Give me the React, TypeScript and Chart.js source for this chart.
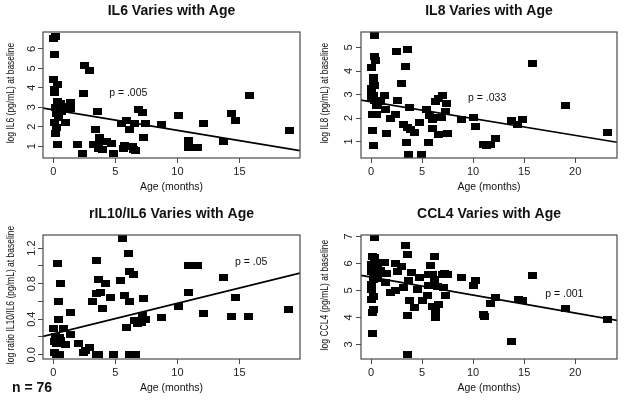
import React, { useEffect, useRef } from 'react';
import { Chart, registerables } from 'chart.js';

Chart.register(...registerables);

const FONT = '"Liberation Sans", Arial, Helvetica, sans-serif';

type Pt = [number, number];

// ---------- data (age in months, log value) ----------
const il6Points: Pt[] = [
  [0, 6.55], [0.2, 6.65], [0.13, 5.72], [0, 4.42], [0.13, 3.93], [0.32, 4.16], [0.1, 3.76],
  [0.32, 3.29], [0.59, 3.19], [0.14, 2.98], [0.48, 2.98], [0.85, 3.05], [0.22, 2.67], [0.67, 2.77],
  [0.06, 2.22], [0.4, 2.46], [1.02, 2.22], [0.27, 1.94], [0.14, 1.63], [0.3, 1.1], [1.39, 3.22],
  [1.39, 2.96], [2.4, 3.73], [2.53, 5.17], [2.88, 4.87], [3.55, 2.79], [1.95, 1.09], [2.37, 0.62],
  [3.2, 1.1], [3.41, 1.87], [3.6, 1.09], [3.73, 1.43], [3.68, 0.9], [4.0, 0.83], [4.27, 1.23],
  [4.67, 1.14], [4.88, 0.62], [5.47, 2.18], [5.92, 2.32], [6.13, 1.87], [6.53, 2.18], [5.73, 1.05],
  [5.65, 0.88], [6.35, 0.96], [6.48, 0.84], [6.61, 0.79], [6.88, 2.9], [7.15, 2.74], [7.47, 2.15],
  [7.25, 1.45], [8.75, 2.1], [10.05, 2.6], [10.88, 1.31], [10.88, 0.91], [11.63, 0.91], [12.13, 2.16],
  [13.73, 1.22], [14.32, 2.67], [14.69, 2.32], [15.79, 3.6], [19.0, 1.83],
];

const il8Points: Pt[] = [
  [0.39, 5.49], [0.39, 4.63], [0.46, 4.45], [0.07, 4.13], [0.2, 3.73], [0.29, 3.52], [0, 3.26],
  [0.39, 3.38], [0.07, 3.05], [0, 2.83], [0.3, 2.76], [0.78, 2.76], [0.62, 2.62], [1.37, 2.95],
  [0.5, 2.55], [0.95, 2.72], [0.2, 2.95], [0.13, 2.15], [0.52, 2.15], [0.13, 1.48], [0.29, 0.85],
  [1.43, 2.38], [1.92, 1.98], [2.41, 2.17], [1.5, 1.33], [2.48, 4.85], [3.6, 4.92], [3.38, 4.2],
  [2.96, 3.48], [2.57, 2.75], [3.77, 2.43], [3.16, 1.71], [3.55, 1.6], [3.87, 1.5], [4.3, 1.39],
  [4.7, 1.79], [3.48, 0.94], [3.65, 0.45], [4.95, 0.45], [5.4, 2.36], [5.73, 2.1], [6.05, 1.95],
  [6.47, 2.04], [6.9, 2.04], [7.29, 2.28], [6.31, 2.72], [6.64, 2.84], [7.03, 2.98], [7.35, 2.62],
  [6.05, 1.57], [6.57, 1.28], [7.45, 1.33], [5.6, 0.94], [8.85, 1.95], [10.05, 2.01], [10.28, 1.62],
  [11.0, 0.88], [11.35, 0.85], [11.7, 0.88], [12.23, 1.12], [13.8, 1.9], [14.34, 1.71], [14.83, 1.93],
  [15.8, 4.34], [19.06, 2.55], [23.12, 1.37],
];

const ratioPoints: Pt[] = [
  [0.32, 1.03], [0.54, 0.8], [0.4, 0.6], [0.4, 0.4], [1.39, 0.48], [0, 0.29], [0.86, 0.29],
  [1.39, 0.23], [0.14, 0.2], [0.48, 0.19], [0.06, 0.15], [0.27, 0.13], [0.59, 0.16], [1.02, 0.11],
  [0.06, 0.03], [0.27, 0.0], [0.48, 0.0], [2.0, 0.13], [2.4, 0.02], [2.62, 0.05], [2.88, 0.08],
  [3.47, 0.0], [3.65, 0.0], [4.85, 0.0], [6.13, 0.0], [6.59, 0.0], [3.47, 1.06], [3.68, 0.85],
  [4.2, 0.8], [3.52, 0.69], [3.82, 0.7], [3.12, 0.6], [3.95, 0.52], [4.62, 0.65], [5.39, 0.84],
  [5.6, 1.31], [6.08, 1.14], [6.13, 0.94], [6.45, 0.9], [5.71, 0.67], [6.13, 0.6], [5.92, 0.31],
  [7.26, 0.63], [6.53, 0.38], [6.93, 0.39], [7.2, 0.44], [7.07, 0.36], [7.42, 0.4], [6.75, 0.35],
  [8.75, 0.42], [10.06, 0.54], [10.86, 1.01], [11.6, 1.01], [10.9, 0.7], [12.14, 0.46], [13.74, 0.87],
  [14.67, 0.65], [14.32, 0.43], [15.76, 0.43], [18.96, 0.51],
];

const ccl4Points: Pt[] = [
  [0.39, 6.94], [0.13, 6.26], [0.39, 6.2], [0, 5.95], [0.62, 5.87], [1.37, 6.05], [0.07, 5.71],
  [0.39, 5.64], [0.78, 5.64], [1.5, 5.62], [0.29, 5.4], [1.43, 5.3], [0, 5.2], [0.07, 5.05],
  [0.5, 6.05], [0.2, 5.55], [0.6, 5.45], [0.9, 5.75], [0, 4.66], [0.2, 4.78], [0.29, 4.31],
  [0.13, 4.19], [0.13, 3.42], [1.92, 4.94], [2.41, 5.0], [2.41, 5.99], [2.99, 5.88], [2.57, 5.71],
  [3.38, 6.66], [3.61, 6.32], [3.96, 5.66], [3.7, 5.37], [3.23, 5.09], [4.75, 5.48], [4.52, 5.03],
  [3.77, 4.63], [4.3, 4.35], [3.61, 4.07], [5.0, 4.63], [5.5, 4.8], [5.82, 5.91], [6.25, 6.24],
  [6.05, 5.58], [5.66, 5.58], [5.66, 5.18], [6.25, 5.4], [6.48, 5.15], [7.12, 5.09], [7.29, 4.81],
  [6.05, 4.41], [6.57, 4.47], [6.31, 4.22], [6.31, 3.98], [7.03, 5.58], [7.45, 5.58], [7.22, 5.64],
  [8.85, 5.46], [10.05, 5.18], [10.28, 5.38], [11.03, 4.12], [11.1, 4.05], [11.68, 4.53], [12.23, 4.72],
  [13.8, 3.11], [14.44, 4.68], [14.87, 4.62], [15.8, 5.55], [19.06, 4.33], [23.12, 3.92], [3.55, 2.62],
];

// regression fits (intercept, slope) and p-values
const il6Fit = { intercept: 2.87, slope: -0.1057 };
const il8Fit = { intercept: 2.69, slope: -0.0714 };
const ratioFit = { intercept: 0.234, slope: 0.0345 };
const ccl4Fit = { intercept: 5.49, slope: -0.0666 };

const pLabels = ['p = .005', 'p = .033', 'p = .05', 'p = .001'];
const titles = ['IL6 Varies with Age', 'IL8 Varies with Age', 'rIL10/IL6 Varies with Age', 'CCL4 Varies with Age'];
const yTitles = [
  'log IL6 (pg/mL) at baseline',
  'log IL8 (pg/mL) at baseline',
  'log ratio IL10/IL6 (pg/mL) at baseline',
  'log CCL4 (pg/mL) at baseline',
];
const xTitle = 'Age (months)';
const sampleLabel = 'n = 76';

// ticks
const ageTicksShort = [0, 5, 10, 15];
const ageTicksLong = [0, 5, 10, 15, 20];
const il6Ticks = [1, 2, 3, 4, 5, 6];
const il8Ticks = [1, 2, 3, 4, 5];
const ratioTicks = [0, 0.2, 0.4, 0.6, 0.8, 1.0, 1.2];
const ratioTickLabels = ['0.0', '', '0.4', '', '0.8', '', '1.2'];
const ccl4Ticks = [3, 4, 5, 6, 7];

// ---------- drawing ----------
const decorPlugin = {
  id: 'decor',
  afterDatasetsDraw(chart: any, _args: any, o: any) {
    const { ctx, chartArea: a } = chart;
    const xs = chart.scales.x;
    const ys = chart.scales.y;
    ctx.save();
    ctx.strokeStyle = '#4a4a4a';
    ctx.lineWidth = 1.2;
    ctx.strokeRect(a.left, a.top, a.right - a.left, a.bottom - a.top);

    ctx.fillStyle = '#111';
    ctx.textAlign = 'center';
    ctx.textBaseline = 'middle';
    ctx.font = `bold 14px ${FONT}`;
    ctx.fillText(o.title, (a.left + a.right) / 2, a.top - 20.5);

    ctx.font = `10.5px ${FONT}`;
    ctx.fillText(o.xTitle, (a.left + a.right) / 2, a.bottom + 29.5);

    ctx.save();
    ctx.translate(a.left - o.yTitleGap, (a.top + a.bottom) / 2 - 2);
    ctx.rotate(-Math.PI / 2);
    ctx.scale(0.85, 1);
    ctx.font = `10px ${FONT}`;
    ctx.fillText(o.yTitle, 0, 0);
    ctx.restore();

    ctx.textAlign = 'left';
    ctx.font = `10.5px ${FONT}`;
    ctx.fillText(o.pLabel, xs.getPixelForValue(o.pAt[0]), ys.getPixelForValue(o.pAt[1]));
    ctx.restore();
  },
};

function makeMarker() {
  const c = document.createElement('canvas');
  c.width = 9;
  c.height = 7;
  const g = c.getContext('2d')!;
  g.fillStyle = '#000';
  g.fillRect(0, 0, 9, 7);
  return c;
}

interface PanelProps {
  points: Pt[];
  fit: { intercept: number; slope: number };
  title: string;
  yTitle: string;
  pLabel: string;
  pAt: [number, number];
  xRange: [number, number];
  yRange: [number, number];
  xTicks: number[];
  yTicks: number[];
  yTickLabels: string[];
  box: { left: number; top: number; width: number; height: number; yAxisW: number; padTop: number; padRight: number; xAxisH: number; yTitleGap: number; yTickPad: number };
}

function Panel(p: PanelProps) {
  const ref = useRef<HTMLCanvasElement>(null);
  useEffect(() => {
    const marker = makeMarker();
    const [x0, x1] = p.xRange;
    const gridOpts = { display: true, drawOnChartArea: false, drawTicks: true, tickLength: 5, color: '#4a4a4a', lineWidth: 1 };
    const chart = new Chart(ref.current!, {
      type: 'scatter',
      data: {
        datasets: [
          {
            data: p.points.map(([x, y]) => ({ x, y })),
            pointStyle: marker as any,
            pointRadius: 4,
            backgroundColor: '#000',
            borderWidth: 0,
          },
          {
            data: [
              { x: x0, y: p.fit.intercept + p.fit.slope * x0 },
              { x: x1, y: p.fit.intercept + p.fit.slope * x1 },
            ],
            showLine: true,
            borderColor: '#000',
            borderWidth: 1.7,
            pointRadius: 0,
          } as any,
        ],
      },
      options: {
        animation: false,
        responsive: false,
        events: [],
        layout: { padding: { left: 0, top: p.box.padTop, right: p.box.padRight, bottom: 0 } },
        plugins: {
          legend: { display: false },
          tooltip: { enabled: false },
          decor: { title: p.title, xTitle, yTitle: p.yTitle, pLabel: p.pLabel, pAt: p.pAt, yTitleGap: p.box.yTitleGap },
        } as any,
        scales: {
          x: {
            type: 'linear',
            min: x0,
            max: x1,
            afterBuildTicks: (s: any) => { s.ticks = p.xTicks.map((v) => ({ value: v })); },
            afterFit: (s: any) => { s.height = p.box.xAxisH; },
            grid: gridOpts,
            border: { display: false },
            ticks: { autoSkip: false, maxRotation: 0, minRotation: 0, padding: 2.5, color: '#222', font: { family: FONT, size: 11 } },
          },
          y: {
            type: 'linear',
            min: p.yRange[0],
            max: p.yRange[1],
            afterBuildTicks: (s: any) => { s.ticks = p.yTicks.map((v) => ({ value: v })); },
            afterFit: (s: any) => { s.width = p.box.yAxisW; },
            grid: gridOpts,
            border: { display: false },
            ticks: {
              autoSkip: false,
              minRotation: 90,
              maxRotation: 90,
              crossAlign: 'center',
              padding: p.box.yTickPad,
              color: '#222',
              font: { family: FONT, size: 11 },
              callback: (_v: any, i: number) => p.yTickLabels[i],
            },
          },
        },
      },
      plugins: [decorPlugin as any],
    });
    return () => chart.destroy();
  }, []);
  const b = p.box;
  return (
    <canvas
      ref={ref}
      width={b.width}
      height={b.height}
      style={{ position: 'absolute', left: b.left, top: b.top, width: b.width, height: b.height }}
    />
  );
}

export default function App() {
  const fmt = (t: number[]) => t.map((v) => String(v));
  return (
    <div style={{ position: 'absolute', left: 0, top: 0, width: 624, height: 401, background: '#fff', overflow: 'hidden' }}>
      <Panel
        points={il6Points} fit={il6Fit} title={titles[0]} yTitle={yTitles[0]} pLabel={pLabels[0]} pAt={[4.5, 3.75]}
        xRange={[-0.83, 19.88]} yRange={[0.39, 6.87]} xTicks={ageTicksShort} yTicks={il6Ticks} yTickLabels={fmt(il6Ticks)}
        box={{ left: 0, top: 0, width: 312, height: 200, yAxisW: 43, padTop: 32, padRight: 12, xAxisH: 42, yTitleGap: 31.5, yTickPad: 3 }}
      />
      <Panel
        points={il8Points} fit={il8Fit} title={titles[1]} yTitle={yTitles[1]} pLabel={pLabels[1]} pAt={[9.5, 2.83]}
        xRange={[-0.98, 24.09]} yRange={[0.3, 5.66]} xTicks={ageTicksLong} yTicks={il8Ticks} yTickLabels={fmt(il8Ticks)}
        box={{ left: 312, top: 0, width: 312, height: 200, yAxisW: 49, padTop: 32, padRight: 7, xAxisH: 42, yTitleGap: 36, yTickPad: 4 }}
      />
      <Panel
        points={ratioPoints} fit={ratioFit} title={titles[2]} yTitle={yTitles[2]} pLabel={pLabels[2]} pAt={[14.64, 1.04]}
        xRange={[-0.83, 19.88]} yRange={[-0.048, 1.348]} xTicks={ageTicksShort} yTicks={ratioTicks} yTickLabels={ratioTickLabels}
        box={{ left: 0, top: 200, width: 312, height: 201, yAxisW: 43, padTop: 35, padRight: 12, xAxisH: 42, yTitleGap: 31.5, yTickPad: -1.5 }}
      />
      <Panel
        points={ccl4Points} fit={ccl4Fit} title={titles[3]} yTitle={yTitles[3]} pLabel={pLabels[3]} pAt={[17.06, 4.88]}
        xRange={[-0.98, 24.09]} yRange={[2.46, 7.05]} xTicks={ageTicksLong} yTicks={ccl4Ticks} yTickLabels={fmt(ccl4Ticks)}
        box={{ left: 312, top: 200, width: 312, height: 201, yAxisW: 49, padTop: 35, padRight: 7, xAxisH: 42, yTitleGap: 36, yTickPad: 4 }}
      />
      <div
        style={{ position: 'absolute', left: 12, top: 379, font: `bold 14px ${FONT}`, lineHeight: '17px', color: '#111' }}
      >
        {sampleLabel}
      </div>
    </div>
  );
}
